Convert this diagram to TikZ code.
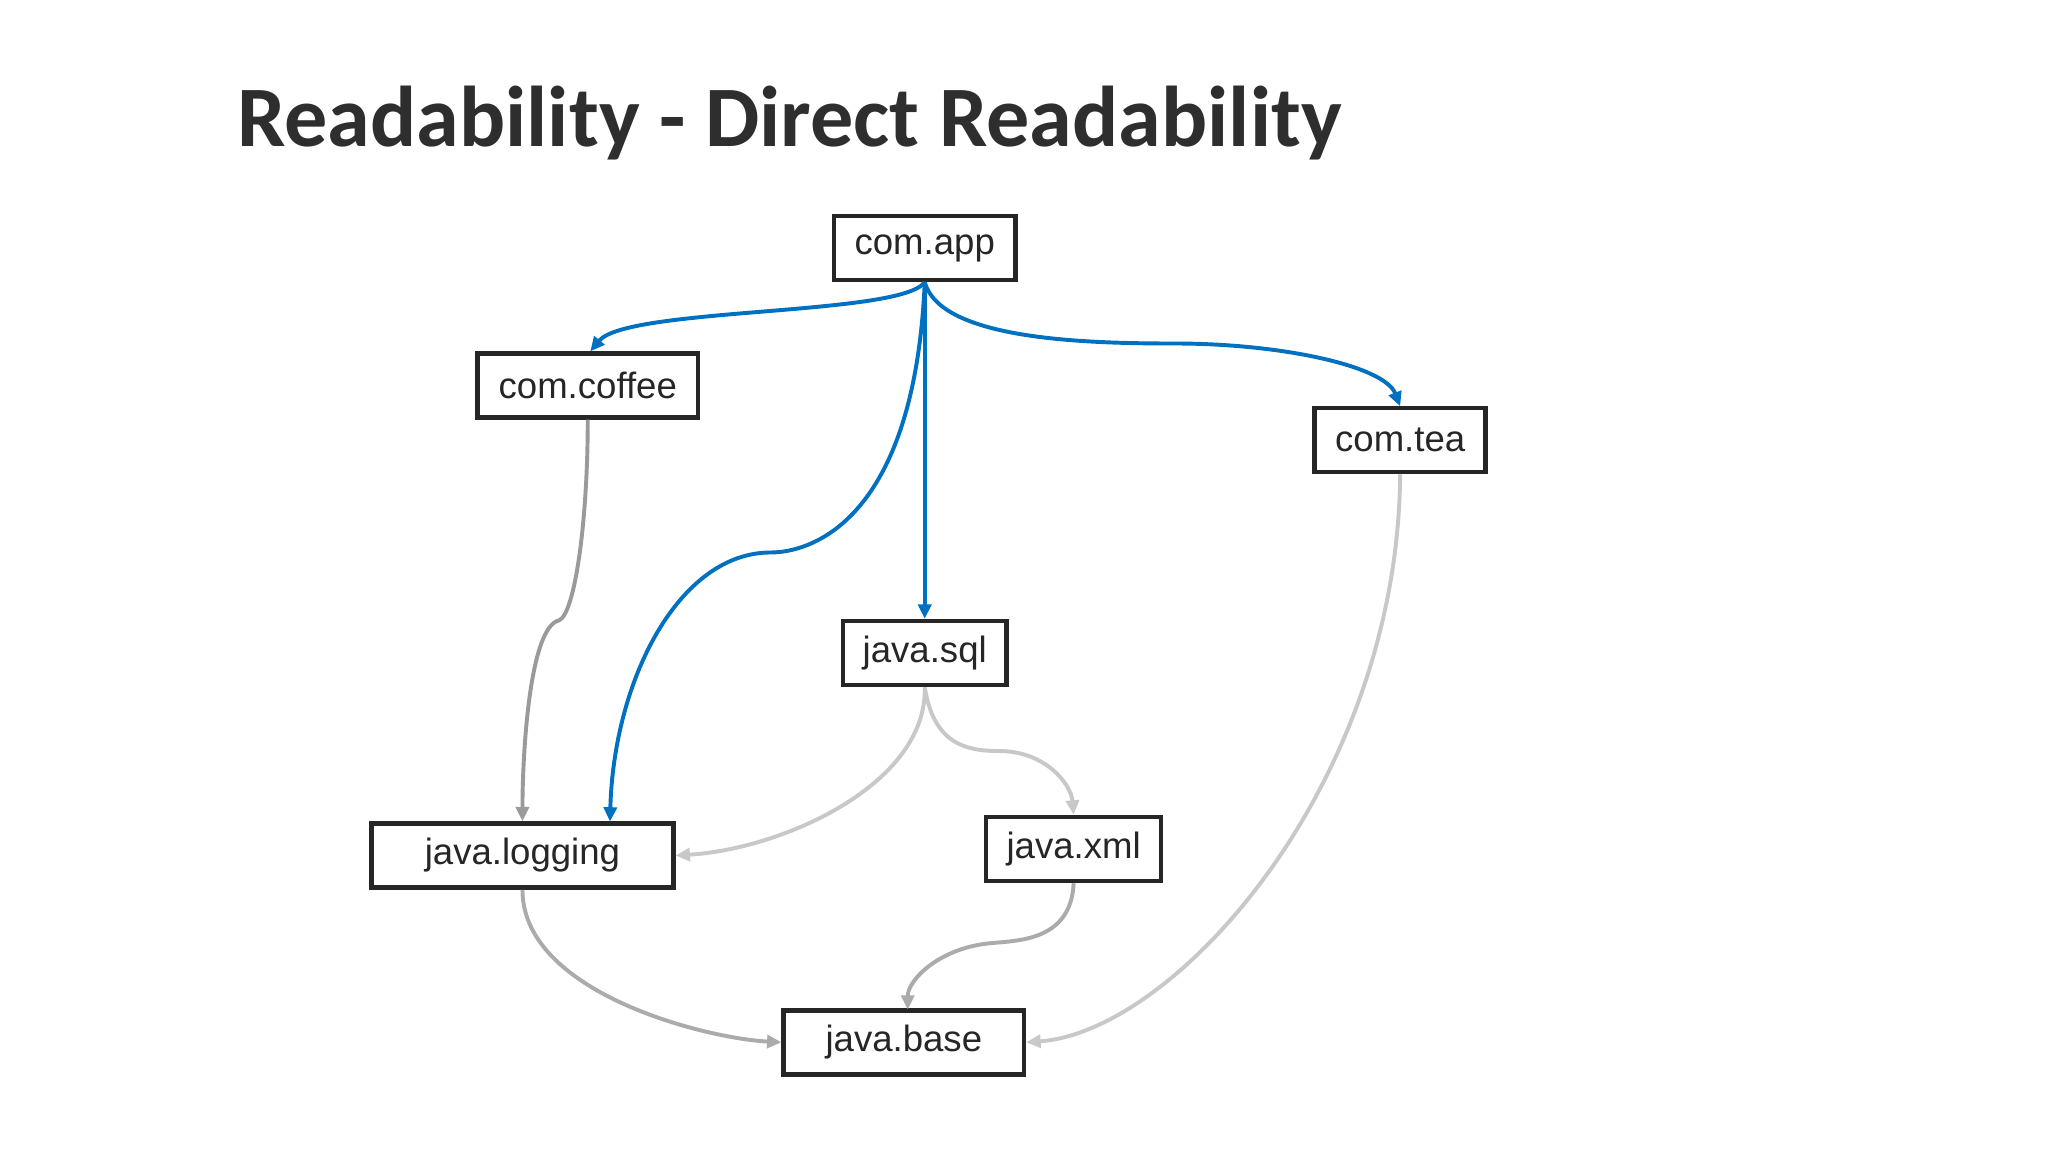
\documentclass[tikz,border=0pt]{standalone}
\usepackage{fontspec}
\setmainfont{Liberation Sans}
\newfontfamily\titlefont{Carlito}
\usetikzlibrary{arrows.meta}
\definecolor{cblue}{HTML}{0070C0}
\definecolor{gdark}{HTML}{9A9A9A}
\definecolor{gmid}{HTML}{ABABAB}
\definecolor{glight}{HTML}{C8C8C8}
\begin{document}
\begin{tikzpicture}[x=1pt,y=-1pt,
  box/.style={draw=black!85,line width=3.5pt,fill=white,inner sep=0pt,font=\fontsize{28}{30}\selectfont,text=black!85},
  edge/.style={line width=3pt,-{Triangle[length=11pt,width=10pt]}}]
\useasboundingbox[fill=white] (0,0) rectangle (1568,882);
\node[anchor=base west,font=\titlefont\bfseries\fontsize{66}{70}\selectfont,text=black!82] (title) at (178,112) {Readability - Direct Readability};
\node[box,minimum width=139,minimum height=49] (app) at (708,190) {com.app};
\node[box,minimum width=169,minimum height=49] (coffee) at (450,295) {com.coffee};
\node[box,minimum width=131,minimum height=49] (tea) at (1072,337) {com.tea};
\node[box,minimum width=125,minimum height=49] (sql) at (708,500) {java.sql};
\node[box,minimum width=231,minimum height=49] (logging) at (400,655) {java.logging};
\node[box,minimum width=134,minimum height=49] (xml) at (822,650) {java.xml};
\node[box,minimum width=184,minimum height=49] (base) at (692,798) {java.base};
\coordinate (s) at (708,216);
\draw[edge,cblue] (s) .. controls (690,242) and (480,235) .. (452,269);
\draw[edge,cblue] (s) .. controls (700,400) and (620,423) .. (590,423) .. controls (520,423) and (470,520) .. (467,629);
\draw[edge,cblue] (s) -- (sql.north);
\draw[edge,cblue] (s) .. controls (720,260) and (830,263) .. (900,263) .. controls (980,263) and (1060,280) .. (1072,311);
\draw[edge,gdark] (coffee.south) .. controls (450,400) and (440,470) .. (428,475) .. controls (405,480) and (400,580) .. (logging.north);
\draw[edge,glight] (sql.south) .. controls (710,600) and (600,650) .. (logging.east);
\draw[edge,glight] (sql.south) .. controls (715,570) and (740,575) .. (765,575) .. controls (800,575) and (820,600) .. (xml.north);
\draw[edge,glight] (tea.south) .. controls (1070,600) and (900,790) .. (base.east);
\draw[edge,gmid] (logging.south) .. controls (400,760) and (540,795) .. (base.west);
\draw[edge,gmid] (xml.south) .. controls (820,720) and (780,720) .. (760,722) .. controls (720,725) and (695,750) .. (695,773);
\end{tikzpicture}
\end{document}
